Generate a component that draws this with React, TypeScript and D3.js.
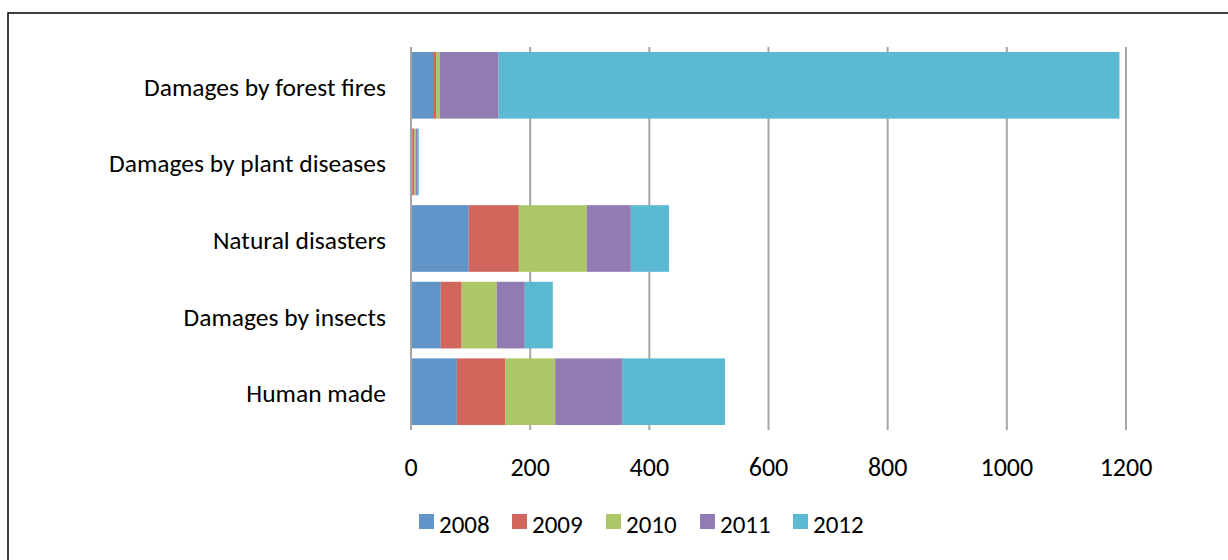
import { useMemo } from "react";
import * as d3 from "d3";

const WIDTH = 1228;
const HEIGHT = 560;
const MARGIN = { top: 47, left: 411, right: 102, bottom: 130 };

const categories = [
  "Damages by forest fires",
  "Damages by plant diseases",
  "Natural disasters",
  "Damages by insects",
  "Human made",
];
const years = ["2008", "2009", "2010", "2011", "2012"];
const colors = ["#6195c9", "#d1665c", "#adc768", "#927bb2", "#5bbad1"];

// values per year, in category order
const v2008 = [37, 2, 97, 50, 77];
const v2009 = [5, 3, 84, 35, 81];
const v2010 = [6, 3, 114, 59, 84];
const v2011 = [99, 2, 74, 47, 112];
const v2012 = [1042, 3, 64, 47, 173];

const xTicks = [0, 200, 400, 600, 800, 1000, 1200];
const FONT = "Carlito, Calibri, 'Open Sans', sans-serif";

type Row = { cat: string } & { [key: string]: number };

export default function App() {
  const seriesValues = [v2008, v2009, v2010, v2011, v2012];
  const data: Row[] = categories.map((c, i) => {
    const r: any = { cat: c };
    years.forEach((y, j) => (r[y] = seriesValues[j][i]));
    return r;
  });

  const boundsWidth = WIDTH - MARGIN.left - MARGIN.right;
  const boundsHeight = HEIGHT - MARGIN.top - MARGIN.bottom;

  const series = d3.stack<Row>().keys(years)(data);

  const xScale = useMemo(
    () => d3.scaleLinear().domain([0, 1200]).range([0, boundsWidth]),
    [boundsWidth]
  );
  const yScale = useMemo(
    () =>
      d3
        .scaleBand<string>()
        .domain(categories)
        .range([0, boundsHeight])
        .paddingInner(0.13)
        .paddingOuter(0.065),
    [boundsHeight]
  );
  const color = d3.scaleOrdinal<string>().domain(years).range(colors);

  const legendX = [419, 512, 606, 700, 793];

  return (
    <svg
      width={WIDTH}
      height={HEIGHT}
      style={{ position: "absolute", left: 0, top: 0, background: "#fff" }}
    >
      <rect x={8} y={13} width={1240} height={600} fill="#fff" stroke="#000" strokeWidth={1.5} />
      <g transform={`translate(${MARGIN.left},${MARGIN.top})`}>
        {xTicks.map((t) =>
          t === 0 ? null : (
            <line
              key={t}
              x1={xScale(t)}
              x2={xScale(t)}
              y1={0}
              y2={boundsHeight}
              stroke="#a6a6a6"
              strokeWidth={2}
            />
          )
        )}
        {series.map((s) => (
          <g key={s.key}>
            {s.map((d, j) => (
              <rect
                key={j}
                x={xScale(d[0])}
                width={xScale(d[1]) - xScale(d[0])}
                y={yScale(d.data.cat)}
                height={yScale.bandwidth()}
                fill={color(s.key)}
              />
            ))}
          </g>
        ))}
        <line x1={0} x2={0} y1={0} y2={boundsHeight} stroke="#a6a6a6" strokeWidth={2} />
        {categories.map((c) => (
          <text
            key={c}
            x={-25}
            y={(yScale(c) || 0) + yScale.bandwidth() / 2 + 2}
            textAnchor="end"
            dominantBaseline="central"
            fontFamily={FONT}
            fontSize={25.5}
            fill="#000"
          >
            {c}
          </text>
        ))}
        {xTicks.map((t) => (
          <text
            key={t}
            x={xScale(t)}
            y={boundsHeight + 37}
            textAnchor="middle"
            dominantBaseline="central"
            fontFamily={FONT}
            fontSize={26}
            fill="#000"
          >
            {t}
          </text>
        ))}
      </g>
      <g>
        {years.map((y, i) => (
          <g key={y} transform={`translate(${legendX[i]},514)`}>
            <rect x={0} y={0} width={15} height={15} fill={colors[i]} />
            <text
              x={20}
              y={10}
              dominantBaseline="central"
              fontFamily={FONT}
              fontSize={25}
              fill="#000"
            >
              {y}
            </text>
          </g>
        ))}
      </g>
    </svg>
  );
}
